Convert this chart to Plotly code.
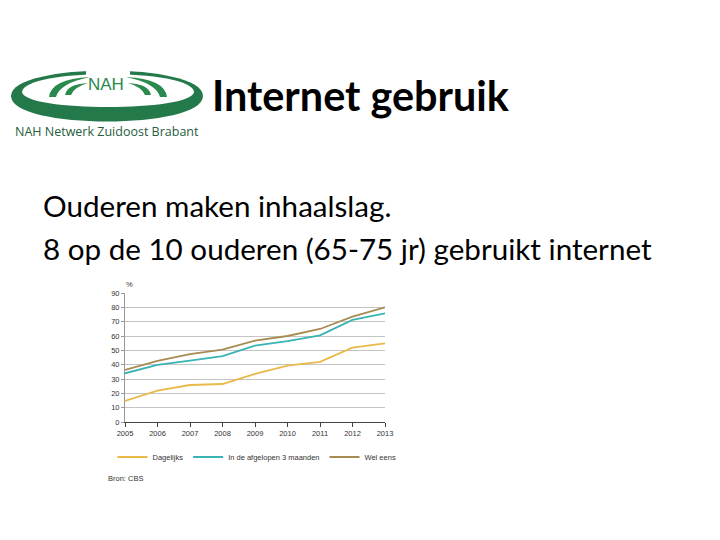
import plotly.graph_objects as go

years = [2005, 2006, 2007, 2008, 2009, 2010, 2011, 2012, 2013]
dagelijks = [14.7, 21.9, 25.8, 26.5, 33.5, 39.3, 42.0, 51.9, 54.9]
afgelopen_3m = [34.0, 39.8, 42.8, 46.0, 53.3, 56.5, 60.5, 71.2, 75.8]
wel_eens = [36.3, 42.6, 47.4, 50.5, 56.7, 60.0, 64.9, 73.5, 80.0]
series_names = ["Dagelijks", "In de afgelopen 3 maanden", "Wel eens"]
series_colors = ["#E9B949", "#3AB3B5", "#A88B52"]
y_ticks = [0, 10, 20, 30, 40, 50, 60, 70, 80, 90]

W, H = 720, 540
OFF = 8  # page body margin offset
fig = go.Figure()

for name, vals, col in zip(series_names, [dagelijks, afgelopen_3m, wel_eens], series_colors):
    fig.add_trace(go.Scatter(x=years, y=vals, mode="lines", name=name,
                             line=dict(color=col, width=1.8)))

# invisible pixel axis for decorations (screen coordinates)
fig.add_trace(go.Scatter(x=[OFF], y=[OFF], xaxis="x2", yaxis="y2", mode="markers",
                         marker=dict(opacity=0), showlegend=False, hoverinfo="skip"))

x0p, x1p = 125 - OFF, 385 - OFF
ytop, ybot = 293 - OFF, 422 - OFF

fig.update_layout(
    width=W, height=H, margin=dict(l=0, r=0, t=0, b=0, autoexpand=False),
    paper_bgcolor="white", plot_bgcolor="rgba(0,0,0,0)",
    showlegend=True,
    xaxis=dict(domain=[x0p / W, x1p / W], range=[2005, 2013], tickvals=years,
               showgrid=False, showline=True, linecolor="#444", linewidth=1,
               ticks="outside", ticklen=4, tickcolor="#444", automargin=False,
               tickfont=dict(family="Liberation Sans", size=7.5, color="#333"), zeroline=False),
    yaxis=dict(domain=[1 - ybot / H, 1 - ytop / H], range=[0, 90], tickvals=y_ticks,
               showgrid=True, gridcolor="#c4c4c4", gridwidth=1,
               showline=True, linecolor="#999", linewidth=1, automargin=False,
               ticks="outside", ticklen=3, tickcolor="#999",
               tickfont=dict(family="Liberation Sans", size=7.5, color="#333"), zeroline=False),
    xaxis2=dict(domain=[0, 1], range=[OFF, W + OFF], visible=False, fixedrange=True, automargin=False),
    yaxis2=dict(domain=[0, 1], range=[H + OFF, OFF], visible=False, fixedrange=True, automargin=False),
    legend=dict(orientation="h", x=(257 - OFF) / W, xanchor="center", y=1 - (457 - OFF) / H, yanchor="middle",
                font=dict(family="Liberation Sans", size=7.5, color="#333"),
                itemwidth=30, bgcolor="rgba(0,0,0,0)", tracegroupgap=0),
)

green = "#2a8a4e"
def path(d, col=green):
    return dict(type="path", xref="x2", yref="y2", path=d, fillcolor=col, line_width=0, layer="below")

shapes = [
    # outer lens of the logo
    path("M 11,96 C 11,62 203,62 203,96 C 203,130 11,130 11,96 Z", "#23794a"),
    # white interior (leaves thick green at bottom)
    path("M 22,92 C 24,68 192,68 194,92 C 192,112 24,112 22,92 Z", "white"),
    path("M 49,97 Q 51,79 90,77 Q 60,83 56,97 Z"),
    path("M 167,97 Q 165,79 126,77 Q 156,83 160,97 Z"),
    path("M 65,95 Q 67,84 88,83 Q 74,87 71,95 Z"),
    path("M 151,95 Q 149,84 128,83 Q 142,87 145,95 Z"),
    dict(type="rect", xref="x2", yref="y2", x0=86, x1=130, y0=68, y1=77, fillcolor="white", line_width=0, layer="below"),
]
fig.update_layout(shapes=shapes)

ann = [
    dict(text="NAH", x=106, y=84, font=dict(family="Liberation Sans", size=17, color=green)),
    dict(text="NAH Netwerk Zuidoost Brabant", x=107, y=131,
         font=dict(family="Open Sans", size=12.5, color="#1f5e3c")),
    dict(text="<b>Internet gebruik</b>", x=210, y=95, xanchor="left",
         font=dict(family="Lato", size=41.4, color="black")),
    dict(text="Ouderen maken inhaalslag.", x=41, y=205, xanchor="left",
         font=dict(family="Lato", size=29.6, color="black")),
    dict(text="8 op de 10 ouderen (65-75 jr) gebruikt internet", x=41, y=248, xanchor="left",
         font=dict(family="Lato", size=29.6, color="black")),
    dict(text="%", x=124, y=284, xanchor="left",
         font=dict(family="Liberation Sans", size=7.5, color="#333")),
    dict(text="Bron: CBS", x=106, y=478, xanchor="left",
         font=dict(family="Liberation Sans", size=7.5, color="#333")),
]
for a in ann:
    a.update(xref="x2", yref="y2", showarrow=False, yanchor="middle")
    a.setdefault("xanchor", "center")
fig.update_layout(annotations=ann)

fig.write_html("out.html")
